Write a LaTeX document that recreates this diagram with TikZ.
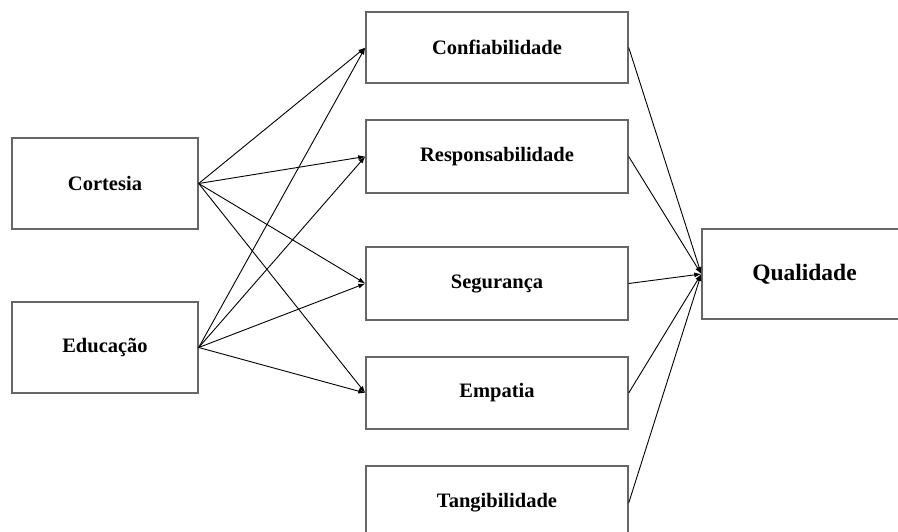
\documentclass[tikz,border=0pt]{standalone}
\usepackage{fontspec}
\setmainfont{Liberation Serif}
\usetikzlibrary{arrows.meta}
\definecolor{boxgray}{HTML}{666666}
\begin{document}
\begin{tikzpicture}[x=1pt,y=-1pt,
  box/.style={draw=boxgray,line width=1.4pt,fill=white,rectangle,inner sep=0pt,
    font=\fontsize{20.5}{24}\selectfont\bfseries},
  conn/.style={draw=black,line width=0.9pt,-{Latex[length=7pt,width=5pt]}},
  src/.style={draw=black,line width=0.9pt}]
\useasboundingbox (0,0) rectangle (898,532);
\clip (0,0) rectangle (898,532);
\fill[white] (0,0) rectangle (898,532);
\node[box,minimum width=186pt,minimum height=91pt] (cort) at (105,183.5) {Cortesia};
\node[box,minimum width=186pt,minimum height=91pt] (edu) at (105,347.5) {Educação};
\node[box,minimum width=262pt,minimum height=71pt] (conf) at (497,47.5) {Confiabilidade};
\node[box,minimum width=262pt,minimum height=73pt] (resp) at (497,156.5) {Responsabilidade};
\node[box,minimum width=262pt,minimum height=73pt] (seg) at (497,283.5) {Segurança};
\node[box,minimum width=262pt,minimum height=72pt] (emp) at (497,393) {Empatia};
\node[box,minimum width=262pt,minimum height=74pt] (tang) at (497,503) {Tangibilidade};
\node[box,minimum width=205pt,minimum height=90pt,font=\fontsize{23.5}{28}\selectfont\bfseries] (qual) at (804.5,274) {Qualidade};
\foreach \s in {cort,edu}{
  \foreach \t in {conf,resp,seg,emp}{
    \draw[conn] (\s.east) -- (\t.west);
  }
}
\foreach \t in {conf,resp,seg,emp,tang}{
  \draw[conn] (\t.east) -- (qual.west);
}
\end{tikzpicture}
\end{document}
